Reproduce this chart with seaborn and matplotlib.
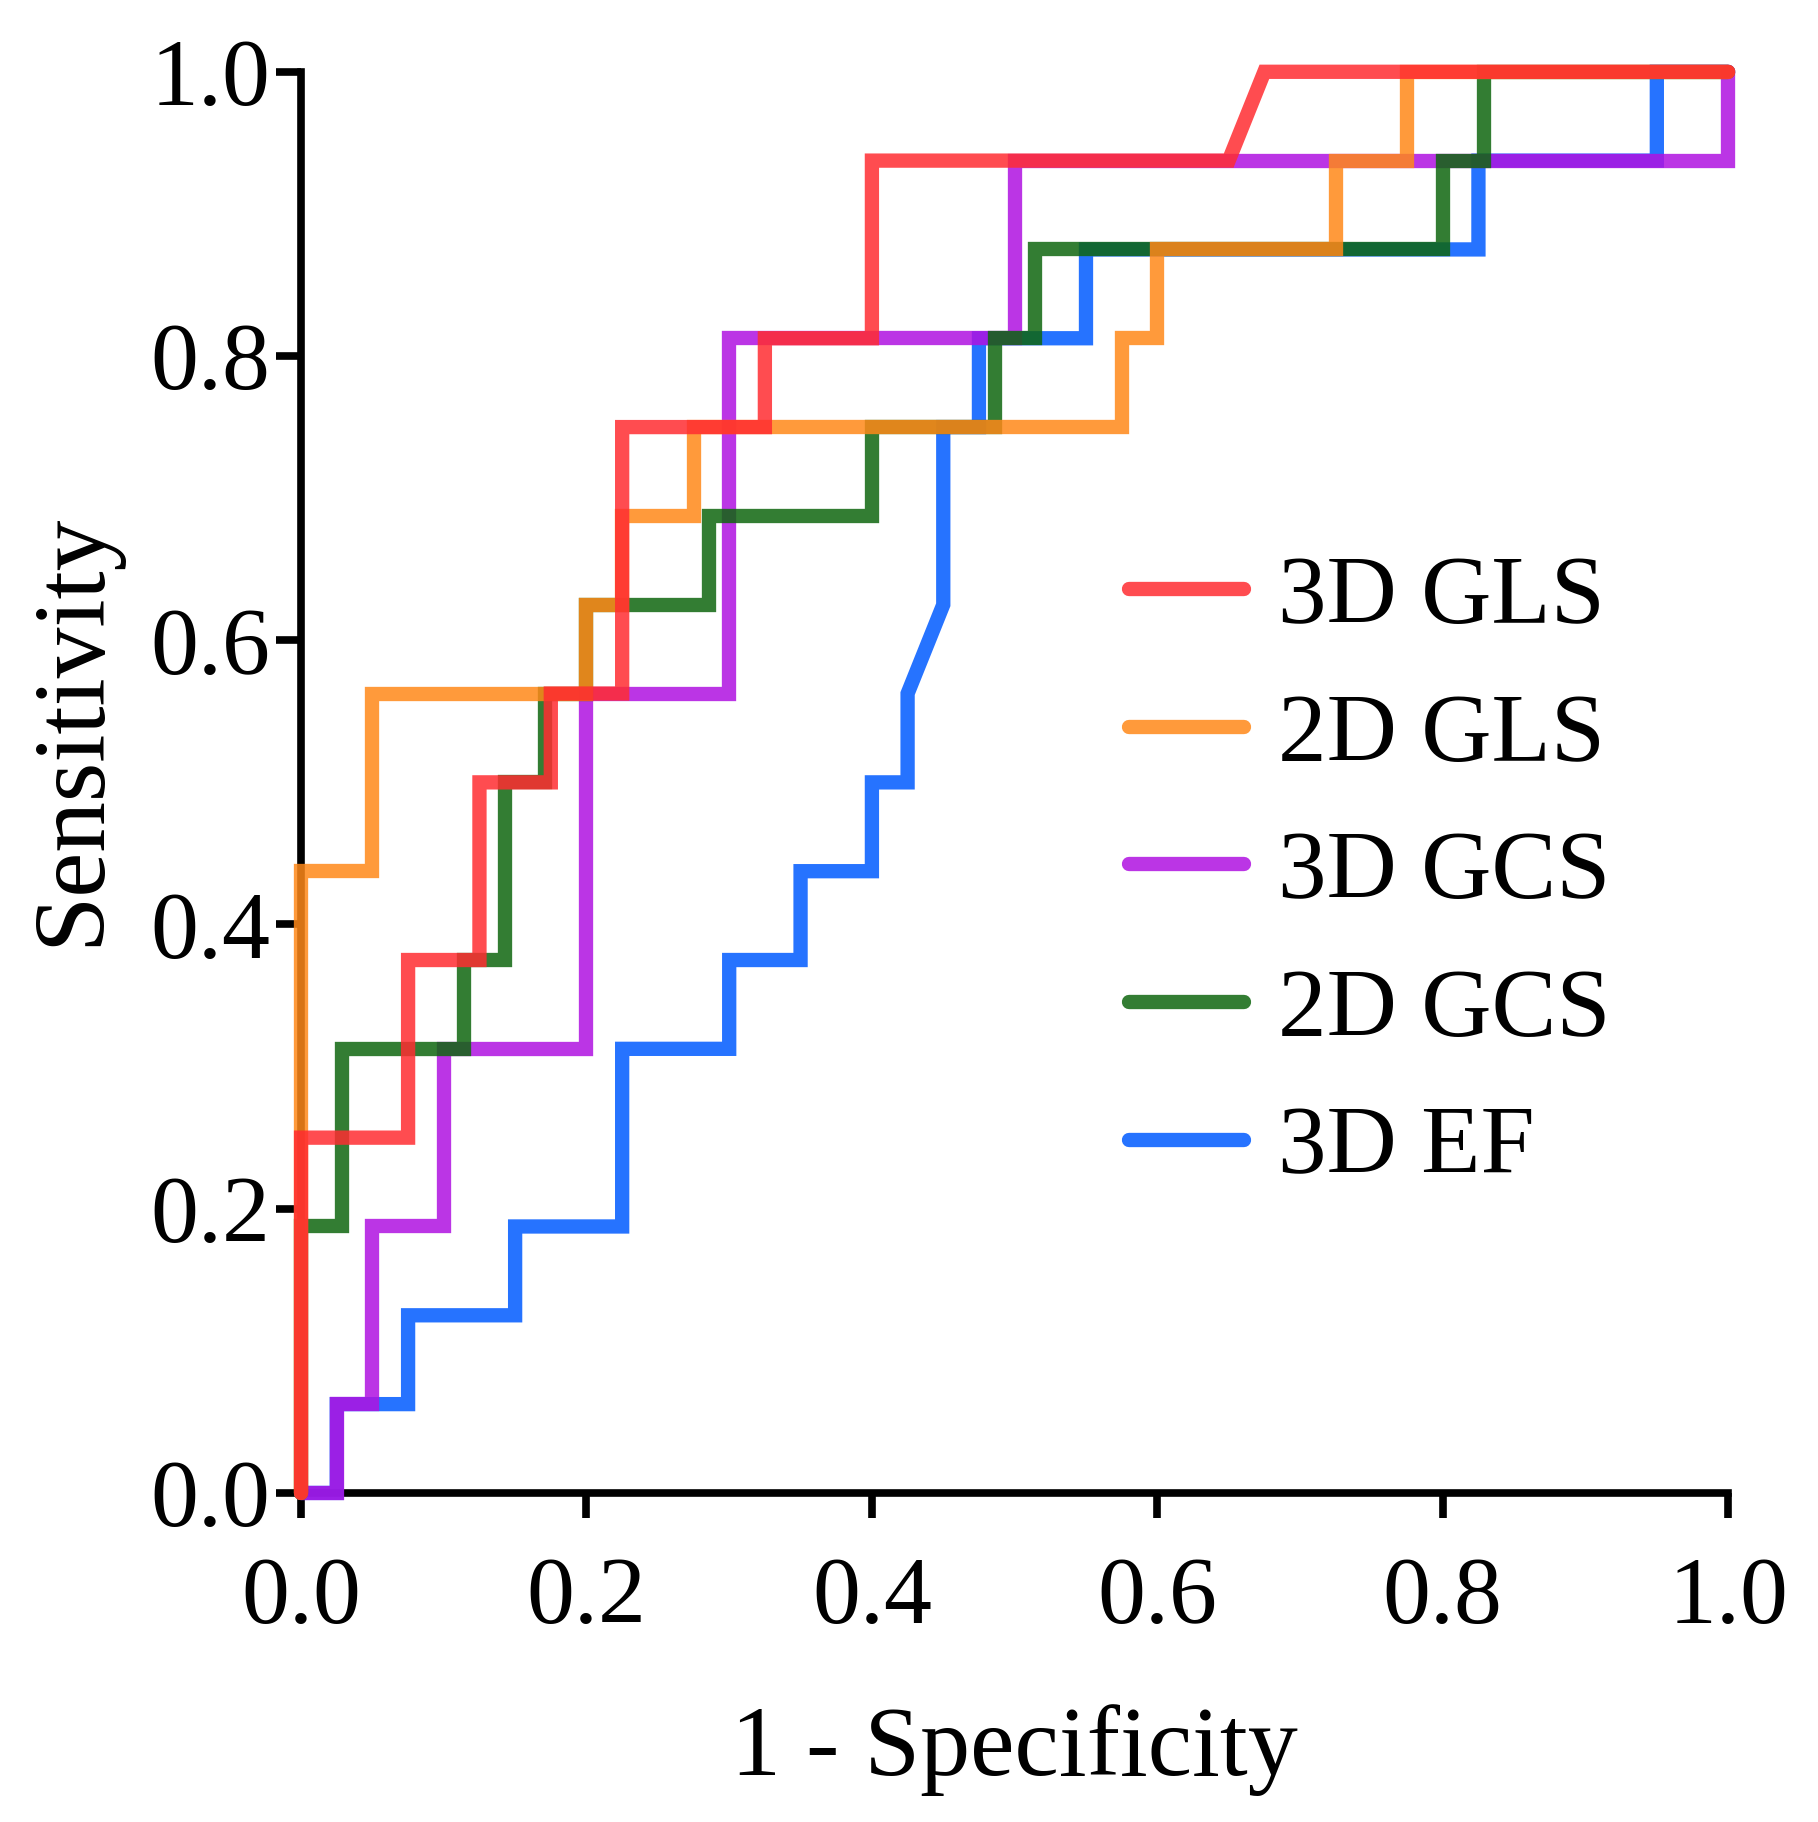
import matplotlib
matplotlib.use("Agg")
import matplotlib.pyplot as plt
import seaborn as sns

# ROC vertices (1 - specificity, sensitivity)
gls3d_fpr = [0, 0, 0.075, 0.075, 0.125, 0.125, 0.175, 0.175, 0.225, 0.225,
             0.325, 0.325, 0.4, 0.4, 0.65, 0.675, 1.0]
gls3d_tpr = [0, 0.25, 0.25, 0.375, 0.375, 0.5, 0.5, 0.5625, 0.5625, 0.75,
             0.75, 0.8125, 0.8125, 0.9375, 0.9375, 1.0, 1.0]

gls2d_fpr = [0, 0, 0.05, 0.05, 0.2, 0.2, 0.225, 0.225, 0.275, 0.275,
             0.575, 0.575, 0.6, 0.6, 0.725, 0.725, 0.775, 0.775, 1.0]
gls2d_tpr = [0, 0.4375, 0.4375, 0.5625, 0.5625, 0.625, 0.625, 0.6875, 0.6875, 0.75,
             0.75, 0.8125, 0.8125, 0.875, 0.875, 0.9375, 0.9375, 1.0, 1.0]

gcs3d_fpr = [0, 0.025, 0.025, 0.05, 0.05, 0.1, 0.1, 0.2, 0.2, 0.3,
             0.3, 0.5, 0.5, 1.0, 1.0]
gcs3d_tpr = [0, 0, 0.0625, 0.0625, 0.1875, 0.1875, 0.3125, 0.3125, 0.5625, 0.5625,
             0.8125, 0.8125, 0.9375, 0.9375, 1.0]

gcs2d_fpr = [0, 0, 0.029, 0.029, 0.114, 0.114, 0.143, 0.143, 0.171, 0.171,
             0.2, 0.2, 0.286, 0.286, 0.4, 0.4, 0.486, 0.486, 0.514, 0.514,
             0.8, 0.8, 0.829, 0.829, 1.0]
gcs2d_tpr = [0, 0.1875, 0.1875, 0.3125, 0.3125, 0.375, 0.375, 0.5, 0.5, 0.5625,
             0.5625, 0.625, 0.625, 0.6875, 0.6875, 0.75, 0.75, 0.8125, 0.8125, 0.875,
             0.875, 0.9375, 0.9375, 1.0, 1.0]

ef3d_fpr = [0, 0.025, 0.025, 0.075, 0.075, 0.15, 0.15, 0.225, 0.225, 0.3,
            0.3, 0.35, 0.35, 0.4, 0.4, 0.425, 0.425, 0.45, 0.45, 0.475,
            0.475, 0.55, 0.55, 0.825, 0.825, 0.95, 0.95, 1.0]
ef3d_tpr = [0, 0, 0.0625, 0.0625, 0.125, 0.125, 0.1875, 0.1875, 0.3125, 0.3125,
            0.375, 0.375, 0.4375, 0.4375, 0.5, 0.5, 0.5625, 0.625, 0.75, 0.75,
            0.8125, 0.8125, 0.875, 0.875, 0.9375, 0.9375, 1.0, 1.0]

labels = ["3D GLS", "2D GLS", "3D GCS", "2D GCS", "3D EF"]
colors = ["#FF2C31", "#FF8818", "#B012E1", "#0F660F", "#005AFF"]
ticks = [0.0, 0.2, 0.4, 0.6, 0.8, 1.0]
tick_labels = ["0.0", "0.2", "0.4", "0.6", "0.8", "1.0"]

curves = {
    "3D GLS": (gls3d_fpr, gls3d_tpr),
    "2D GLS": (gls2d_fpr, gls2d_tpr),
    "3D GCS": (gcs3d_fpr, gcs3d_tpr),
    "2D GCS": (gcs2d_fpr, gcs2d_tpr),
    "3D EF": (ef3d_fpr, ef3d_tpr),
}

sns.set_style("ticks")
plt.rcParams["font.family"] = ["Liberation Serif", "DejaVu Serif"]
plt.rcParams["text.color"] = "black"

fig = plt.figure(figsize=(18.18, 18.22), dpi=100)
ax = fig.add_axes([0.1656, 0.1806, 0.785, 0.78])

# draw bottom to top: EF, 3D GCS, 2D GCS, 2D GLS, 3D GLS
draw_order = ["3D EF", "3D GCS", "2D GCS", "2D GLS", "3D GLS"]
for z, name in enumerate(draw_order):
    fpr, tpr = curves[name]
    sns.lineplot(
        x=fpr, y=tpr, ax=ax,
        sort=False, estimator=None,
        color=colors[labels.index(name)],
        linewidth=10.3, alpha=0.85,
        label=name, zorder=3 + z,
        solid_capstyle="round", solid_joinstyle="miter",
        clip_on=False,
    )

ax.set_xlim(0, 1)
ax.set_ylim(0, 1)
ax.set_xticks(ticks)
ax.set_xticklabels(tick_labels)
ax.set_yticks(ticks)
ax.set_yticklabels(tick_labels)

sns.despine(ax=ax)
for side in ["left", "bottom"]:
    ax.spines[side].set_linewidth(5.5)
    ax.spines[side].set_color("black")

ax.tick_params(axis="both", length=18, width=5.5, color="black",
               labelsize=69, labelcolor="black")
ax.tick_params(axis="x", pad=28)
ax.tick_params(axis="y", pad=4)

ax.set_xlabel("1 - Specificity", fontsize=72, color="black")
ax.set_ylabel("Sensitivity", fontsize=73, color="black")
ax.xaxis.set_label_coords(0.5, -0.1485)
ax.yaxis.set_label_coords(-0.127, 0.537)

handles, names = ax.get_legend_handles_labels()
lookup = dict(zip(names, handles))
ax.legend(
    [lookup[n] for n in labels], labels,
    loc="upper left", bbox_to_anchor=(0.58, 0.66),
    frameon=False, fontsize=70, borderpad=0, borderaxespad=0,
    handlelength=1.19, handletextpad=0.34, labelspacing=0.5,
    labelcolor="black",
)

fig.savefig("out.png", dpi=100)
